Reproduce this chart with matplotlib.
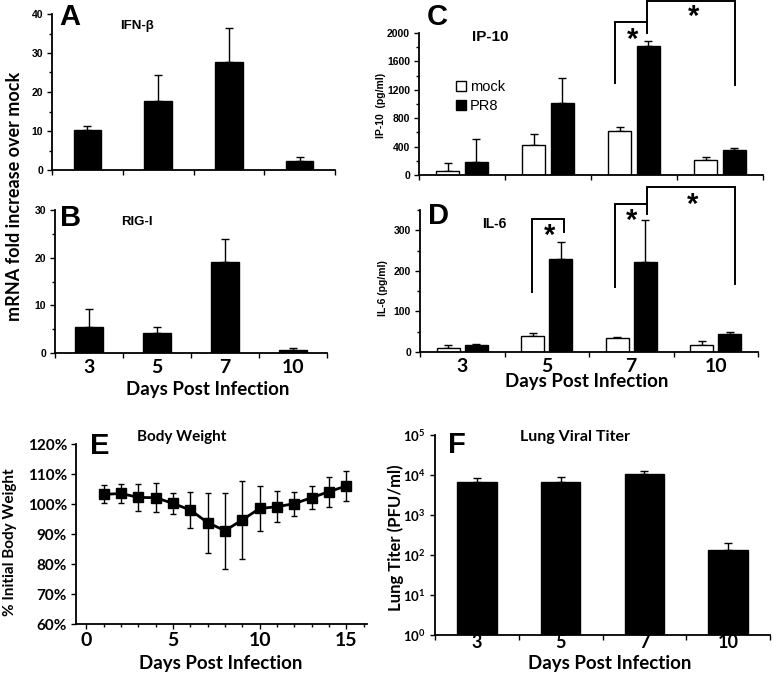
from __future__ import annotations

import matplotlib

matplotlib.use('Agg')
import matplotlib.pyplot as plt
from matplotlib.patches import Patch
from matplotlib.ticker import FixedLocator, MultipleLocator, NullFormatter, NullLocator, PercentFormatter

OUTPUT_PNG = 'out.png'
FIG_W, FIG_H = 773, 678

DAYS = ['3', '5', '7', '10']

# panel A / B: mRNA fold increase over mock
IFN_B_MEAN = [10.2, 17.7, 27.8, 2.2]
IFN_B_ERR = [1.1, 6.6, 8.7, 1.1]
RIG_I_MEAN = [5.4, 4.1, 19.1, 0.7]
RIG_I_ERR = [3.9, 1.4, 4.9, 0.3]

# panel C / D: cytokines (pg/ml)
IP10_MOCK = [60, 420, 625, 210]
IP10_MOCK_ERR = [110, 160, 45, 50]
IP10_PR8 = [190, 1010, 1810, 350]
IP10_PR8_ERR = [310, 350, 80, 35]

IL6_MOCK = [10, 39, 35, 18]
IL6_MOCK_ERR = [8, 8, 2, 9]
IL6_PR8 = [18, 228, 222, 44]
IL6_PR8_ERR = [2, 43, 103, 5]

# significance brackets: (x_left, x_right, y_top, y_left_end, y_right_end)
IP10_BRACKETS = [(1.78, 2.15, 2154, 1295, 2000), (2.15, 3.17, 2450, 2154, 1267)]
IP10_STARS = [(1.98, 1900), (2.69, 2220)]
IL6_BRACKETS = [(0.83, 1.20, 329, 148, 296), (1.81, 2.19, 366, 159, 341), (2.19, 3.23, 407, 366, 167)]
IL6_STARS = [(1.03, 285), (2.0, 322), (2.73, 362)]

# panel E: body weight
WEIGHT_DAY = [1, 2, 3, 4, 5, 6, 7, 8, 9, 10, 11, 12, 13, 14, 15]
WEIGHT_PCT = [103.2, 103.5, 102.2, 102.1, 100.2, 98.0, 93.8, 91.1, 94.7, 98.5, 99.1, 100.1, 102.1, 104.1, 106.0]
WEIGHT_SD = [3.0, 3.3, 4.4, 4.8, 3.6, 6.0, 10.0, 12.7, 13.0, 7.4, 5.2, 4.0, 3.9, 5.0, 5.0]

# panel F: lung viral titer
TITER = [6800, 6560, 10600, 133]
TITER_ERR = [1500, 2100, 2200, 63]

ARIAL = 'Liberation Sans'
CALIBRI = 'Lato'


def rect(left, top, right, bottom):
    return [left / FIG_W, 1 - bottom / FIG_H, (right - left) / FIG_W, (bottom - top) / FIG_H]


def fx(px):
    return px / FIG_W


def fy(py):
    return 1 - py / FIG_H


def style_axes(ax):
    for side in ('top', 'right'):
        ax.spines[side].set_visible(False)
    for side in ('left', 'bottom'):
        ax.spines[side].set_linewidth(1.3)
    ax.tick_params(which='both', direction='out', width=1, colors='black')
    ax.tick_params(which='major', length=3.5)
    ax.tick_params(which='minor', length=2.5)


def category_axis(ax, show_labels, size=14):
    ax.set_xlim(-0.5, 3.5)
    ax.xaxis.set_major_locator(FixedLocator([-0.5, 0.5, 1.5, 2.5, 3.5]))
    ax.xaxis.set_major_formatter(NullFormatter())
    ax.xaxis.set_minor_locator(FixedLocator([0, 1, 2, 3]))
    if show_labels:
        ax.set_xticklabels(DAYS, minor=True, fontsize=size, fontweight='bold', family=CALIBRI)
    else:
        ax.xaxis.set_minor_formatter(NullFormatter())
    ax.tick_params(axis='x', which='minor', length=0, pad=4)


def small_yticks(ax):
    for label in ax.get_yticklabels():
        label.set_fontsize(7.5)
        label.set_fontweight('bold')
        label.set_family(ARIAL)
    ax.tick_params(axis='y', pad=3)


def draw_brackets(ax, brackets, stars):
    for x_left, x_right, y_top, y_left_end, y_right_end in brackets:
        ax.plot([x_left, x_left, x_right, x_right], [y_left_end, y_top, y_top, y_right_end],
                color='black', lw=1.4, clip_on=False, solid_joinstyle='miter')
    for x, y in stars:
        ax.text(x, y, '*', ha='center', va='center', fontsize=21, fontweight='bold',
                family=ARIAL, clip_on=False)


def single_bars(ax, means, errs, width):
    x = list(range(len(means)))
    ax.bar(x, means, width=width, color='black', edgecolor='black', zorder=2)
    ax.errorbar(x, means, yerr=[[0] * len(errs), errs], fmt='none', ecolor='black',
                elinewidth=1, capsize=3, capthick=1, zorder=1)


def paired_bars(ax, mock, mock_err, pr8, pr8_err):
    x = list(range(len(mock)))
    offset, width = 0.165, 0.27
    xm = [v - offset for v in x]
    xp = [v + offset for v in x]
    ax.bar(xm, mock, width=width, color='white', edgecolor='black', linewidth=1, zorder=2)
    ax.bar(xp, pr8, width=width, color='black', edgecolor='black', linewidth=1, zorder=2)
    ax.errorbar(xm, mock, yerr=[[0] * len(mock_err), mock_err], fmt='none', ecolor='black',
                elinewidth=1, capsize=3, capthick=1, zorder=1)
    ax.errorbar(xp, pr8, yerr=[[0] * len(pr8_err), pr8_err], fmt='none', ecolor='black',
                elinewidth=1, capsize=3, capthick=1, zorder=1)


def main() -> None:
    fig = plt.figure(figsize=(FIG_W / 100, FIG_H / 100), dpi=100)

    # A: IFN-beta
    ax_a = fig.add_axes(rect(52, 14, 335, 170))
    single_bars(ax_a, IFN_B_MEAN, IFN_B_ERR, 0.39)
    ax_a.set_ylim(0, 40)
    ax_a.yaxis.set_major_locator(MultipleLocator(10))
    ax_a.yaxis.set_minor_locator(MultipleLocator(5))
    style_axes(ax_a)
    category_axis(ax_a, False)
    small_yticks(ax_a)

    # B: RIG-I
    ax_b = fig.add_axes(rect(55, 210, 327, 353))
    single_bars(ax_b, RIG_I_MEAN, RIG_I_ERR, 0.40)
    ax_b.set_ylim(0, 30)
    ax_b.yaxis.set_major_locator(MultipleLocator(10))
    ax_b.yaxis.set_minor_locator(MultipleLocator(5))
    style_axes(ax_b)
    category_axis(ax_b, True)
    small_yticks(ax_b)

    # C: IP-10
    ax_c = fig.add_axes(rect(419, 33, 763, 175))
    paired_bars(ax_c, IP10_MOCK, IP10_MOCK_ERR, IP10_PR8, IP10_PR8_ERR)
    ax_c.set_ylim(0, 2000)
    ax_c.yaxis.set_major_locator(MultipleLocator(400))
    ax_c.yaxis.set_minor_locator(MultipleLocator(200))
    style_axes(ax_c)
    category_axis(ax_c, False)
    small_yticks(ax_c)
    draw_brackets(ax_c, IP10_BRACKETS, IP10_STARS)
    handles = [Patch(facecolor='white', edgecolor='black', label='mock'),
               Patch(facecolor='black', edgecolor='black', label='PR8')]
    ax_c.legend(handles=handles, loc='upper left', bbox_to_anchor=(0.085, 0.72), frameon=False,
                handlelength=0.75, handleheight=0.75, handletextpad=0.25, borderpad=0,
                labelspacing=0.35, prop={'family': ARIAL, 'size': 10.5})

    # D: IL-6
    ax_d = fig.add_axes(rect(420, 210, 758, 352))
    paired_bars(ax_d, IL6_MOCK, IL6_MOCK_ERR, IL6_PR8, IL6_PR8_ERR)
    ax_d.set_ylim(0, 350)
    ax_d.yaxis.set_major_locator(FixedLocator([0, 100, 200, 300]))
    ax_d.yaxis.set_minor_locator(FixedLocator([50, 150, 250, 350]))
    style_axes(ax_d)
    category_axis(ax_d, True)
    small_yticks(ax_d)
    draw_brackets(ax_d, IL6_BRACKETS, IL6_STARS)

    # E: body weight
    ax_e = fig.add_axes(rect(76, 444, 367, 624))
    ax_e.errorbar(WEIGHT_DAY, WEIGHT_PCT, yerr=WEIGHT_SD, color='black', lw=2, marker='s',
                  markersize=6.5, ecolor='black', elinewidth=1, capsize=2.5, capthick=1)
    ax_e.set_xlim(-0.6, 16.2)
    ax_e.set_ylim(60, 120)
    ax_e.xaxis.set_major_locator(MultipleLocator(5))
    ax_e.xaxis.set_minor_locator(MultipleLocator(1))
    ax_e.yaxis.set_major_locator(MultipleLocator(10))
    ax_e.yaxis.set_major_formatter(PercentFormatter(xmax=100, decimals=0))
    style_axes(ax_e)
    for label in ax_e.get_xticklabels():
        label.set_fontsize(14)
        label.set_fontweight('bold')
        label.set_family(CALIBRI)
    for label in ax_e.get_yticklabels():
        label.set_fontsize(11)
        label.set_fontweight('bold')
        label.set_family(CALIBRI)
    ax_e.tick_params(axis='x', pad=2)
    ax_e.tick_params(axis='y', pad=3)

    # F: lung viral titer
    ax_f = fig.add_axes(rect(435, 435, 770, 635))
    single_bars(ax_f, TITER, TITER_ERR, 0.47)
    ax_f.set_yscale('log')
    ax_f.set_ylim(1, 1e5)
    ax_f.yaxis.set_major_locator(FixedLocator([1, 10, 100, 1e3, 1e4, 1e5]))
    ax_f.yaxis.set_minor_locator(NullLocator())
    ax_f.set_yticklabels([r'$\mathregular{10^{%d}}$' % k for k in range(6)])
    style_axes(ax_f)
    category_axis(ax_f, True, size=13)
    for label in ax_f.get_yticklabels():
        label.set_fontsize(9.5)
        label.set_fontweight('bold')
        label.set_family(CALIBRI)
    ax_f.tick_params(axis='x', which='minor', pad=-1)

    # panel letters
    for letter, (px, py) in zip('ABCDEF', [(59, 3), (60, 204), (427, 3), (428, 202), (90, 432), (448, 431)]):
        fig.text(fx(px), fy(py), letter, ha='left', va='top', fontsize=21, fontweight='bold', family=ARIAL)

    # panel titles
    fig.text(fx(120), fy(26), 'IFN-β', va='center', fontsize=9.5, fontweight='bold', family=ARIAL)
    fig.text(fx(121), fy(222), 'RIG-I', va='center', fontsize=9.5, fontweight='bold', family=ARIAL)
    fig.text(fx(472), fy(37), 'IP-10', va='center', fontsize=11, fontweight='bold', family=ARIAL)
    fig.text(fx(482), fy(224), 'IL-6', va='center', fontsize=10, fontweight='bold', family=ARIAL)
    fig.text(fx(137), fy(437), 'Body Weight', va='center', fontsize=11, fontweight='bold', family=CALIBRI)
    fig.text(fx(520), fy(437), 'Lung Viral Titer', va='center', fontsize=11.5, fontweight='bold', family=CALIBRI)

    # axis labels
    fig.text(fx(15), fy(196), 'mRNA fold increase over mock', rotation=90, ha='center', va='center',
             fontsize=13, fontweight='bold', family=CALIBRI)
    fig.text(fx(381), fy(105), 'IP-10  (pg/ml)', rotation=90, ha='center', va='center',
             fontsize=7.5, fontweight='bold', family=ARIAL)
    fig.text(fx(383), fy(288), 'IL-6 (pg/ml)', rotation=90, ha='center', va='center',
             fontsize=7.5, fontweight='bold', family=ARIAL)
    fig.text(fx(10), fy(542), '% Initial Body Weight', rotation=90, ha='center', va='center',
             fontsize=11, fontweight='bold', family=CALIBRI)
    fig.text(fx(396), fy(538), 'Lung Titer (PFU/ml)', rotation=90, ha='center', va='center',
             fontsize=12, fontweight='bold', family=CALIBRI)
    for px, py in [(208, 390), (587, 382), (221, 663), (610, 664)]:
        fig.text(fx(px), fy(py), 'Days Post Infection', ha='center', va='center',
                 fontsize=13.5, fontweight='bold', family=CALIBRI)

    fig.savefig(OUTPUT_PNG, dpi=100)


if __name__ == '__main__':
    main()
